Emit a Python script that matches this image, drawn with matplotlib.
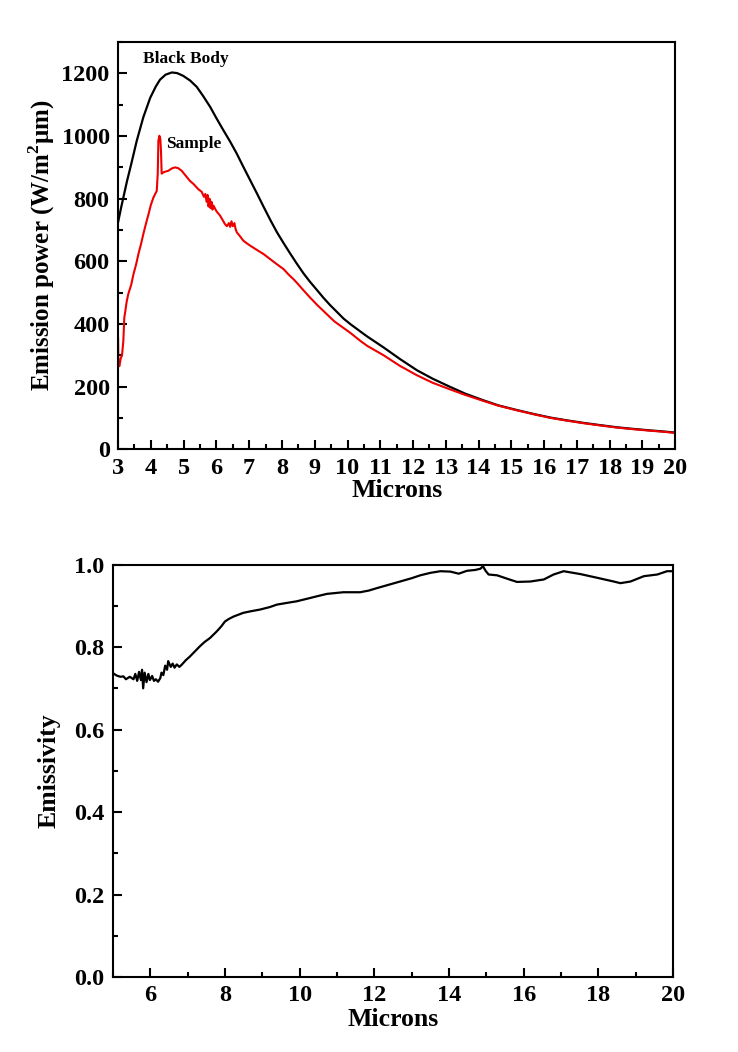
import matplotlib
matplotlib.use('Agg')
import matplotlib.pyplot as plt
from matplotlib.ticker import MultipleLocator

plt.rcParams['font.family'] = 'Liberation Serif'
plt.rcParams['font.weight'] = 'bold'
plt.rcParams['mathtext.fontset'] = 'custom'
plt.rcParams['mathtext.rm'] = 'Liberation Serif:bold'
plt.rcParams['mathtext.bf'] = 'Liberation Serif:bold'

# Black body curve
bb_x = [3.0, 3.1, 3.27, 3.4, 3.57, 3.77, 3.98, 4.15, 4.28, 4.45, 4.64, 4.8, 4.99,
        5.2, 5.4, 5.6, 5.81, 6.0, 6.21, 6.42, 6.62, 6.82, 7.03, 7.24, 7.44, 7.64,
        7.84, 8.05, 8.25, 8.45, 8.66, 8.86, 9.07, 9.27, 9.47, 9.68, 9.88, 10.08,
        10.39, 10.6, 11.1, 11.6, 12.12, 12.6, 13.13, 13.6, 14.15, 14.6, 15.17,
        15.7, 16.19, 16.7, 17.2, 17.7, 18.22, 18.7, 19.24, 19.6, 20.0]
bb_y = [725, 775, 855, 910, 985, 1060, 1122, 1158, 1180, 1196, 1203, 1201, 1192,
        1177, 1157, 1127, 1093, 1057, 1019, 982, 944, 902, 859, 816, 774, 733,
        694, 658, 625, 593, 561, 534, 508, 483, 460, 438, 417, 400,
        376, 360, 325, 288, 252, 225, 199, 177, 156, 140, 125,
        112, 101, 92, 84, 77, 70, 65, 60, 57, 53]

# Sample curve
sm_x = [3.00, 3.01, 3.04, 3.08, 3.12, 3.16, 3.19, 3.22, 3.26, 3.31, 3.40, 3.47,
        3.55, 3.62, 3.70, 3.77, 3.85, 3.93, 4.00, 4.08, 4.18, 4.21, 4.23, 4.26,
        4.29, 4.31, 4.33, 4.40, 4.53, 4.65, 4.74, 4.84, 4.94, 5.05, 5.19, 5.30,
        5.45, 5.55, 5.62, 5.66, 5.70, 5.73, 5.76, 5.79, 5.82, 5.85, 5.88, 5.91,
        6.00, 6.11, 6.20, 6.26, 6.32, 6.38, 6.42, 6.46, 6.50, 6.55, 6.58, 6.62,
        6.72, 6.82, 6.92, 7.03, 7.24, 7.44, 7.64, 7.84, 8.05, 8.20, 8.35, 8.45,
        8.66, 8.86, 9.07, 9.37, 9.60, 9.88, 10.08, 10.39, 10.6, 11.1, 11.6,
        12.12, 12.6, 13.13, 13.6, 14.15, 14.6, 15.17, 15.7, 16.19, 16.7, 17.2,
        17.7, 18.22, 18.7, 19.24, 19.6, 20.0]
sm_y = [355, 270, 265, 290, 300, 345, 420, 440, 470, 495, 525, 559,
        590, 623, 655, 687, 720, 751, 780, 804, 825, 880, 985, 1001,
        990, 950, 880, 885, 889, 897, 900, 897, 889, 875, 857, 847,
        830, 822, 806, 815, 790, 812, 775, 800, 770, 790, 765, 778,
        760, 746, 730, 719, 712, 722, 710, 728, 712, 722, 705, 693,
        680, 666, 658, 650, 636, 623, 607, 591, 575, 558, 543, 532,
        507, 484, 461, 431, 408, 387, 372, 346, 330, 300, 266,
        236, 212, 191, 173, 154, 139, 124, 111, 100, 91, 83,
        76, 69, 64, 59, 56, 52]

# Emissivity
em_x = [5.0, 5.1, 5.2, 5.28, 5.35, 5.45, 5.55, 5.6, 5.65, 5.7, 5.75, 5.78, 5.81,
        5.85, 5.9, 5.95, 5.99, 6.05, 6.1, 6.15, 6.21, 6.27, 6.3, 6.35, 6.4, 6.45,
        6.48, 6.55, 6.6, 6.65, 6.71, 6.78, 6.84, 6.95, 7.06, 7.2, 7.33, 7.45, 7.6,
        7.78, 7.9, 8.0, 8.1, 8.23, 8.49, 8.7, 8.94, 9.2, 9.39, 9.65, 9.92, 10.28,
        10.5, 10.73, 11.17, 11.62, 11.85, 12.07, 12.38, 12.69, 13.0, 13.23, 13.5,
        13.77, 14.04, 14.26, 14.48, 14.7, 14.84, 14.91, 14.98, 15.06, 15.29, 15.55,
        15.82, 16.18, 16.54, 16.8, 17.07, 17.52, 17.97, 18.41, 18.59, 18.86, 19.22,
        19.58, 19.84, 20.0]
em_y = [0.737, 0.731, 0.728, 0.729, 0.722, 0.728, 0.722, 0.735, 0.718, 0.740,
        0.720, 0.745, 0.700, 0.738, 0.715, 0.735, 0.720, 0.730, 0.718, 0.722,
        0.716, 0.725, 0.738, 0.732, 0.755, 0.745, 0.766, 0.752, 0.760, 0.750,
        0.758, 0.752, 0.757, 0.768, 0.777, 0.790, 0.802, 0.812, 0.822, 0.838,
        0.850, 0.862, 0.868, 0.874, 0.883, 0.887, 0.891, 0.897, 0.903, 0.907,
        0.911, 0.919, 0.924, 0.929, 0.933, 0.933, 0.937, 0.943, 0.951, 0.959,
        0.967, 0.974, 0.980, 0.984, 0.983, 0.978, 0.985, 0.987, 0.990, 0.996,
        0.985, 0.976, 0.974, 0.966, 0.958, 0.959, 0.964, 0.976, 0.984, 0.977,
        0.968, 0.959, 0.955, 0.959, 0.972, 0.976, 0.984, 0.984]


def style_axes(ax):
    for sp in ax.spines.values():
        sp.set_linewidth(1.5)
    ax.tick_params(which='both', direction='in', top=False, right=False, width=1.5)
    ax.tick_params(which='major', length=6.5, labelsize=17.5, pad=6)
    ax.tick_params(which='minor', length=3.5)


fig = plt.figure(figsize=(7.38, 10.52), dpi=100)

# top panel
ax1 = fig.add_axes([0.160, 0.573, 0.755, 0.387])
ax1.plot(bb_x, bb_y, color='black', lw=1.6)
ax1.plot(sm_x, sm_y, color='#ee0000', lw=1.5)
ax1.set_xlim(3, 20)
ax1.set_ylim(0, 1300)
ax1.xaxis.set_major_locator(MultipleLocator(1))
ax1.xaxis.set_minor_locator(MultipleLocator(0.5))
ax1.yaxis.set_major_locator(MultipleLocator(200))
ax1.yaxis.set_minor_locator(MultipleLocator(100))
style_axes(ax1)
ax1.set_xlabel('Microns', fontsize=18.5, fontweight='bold', labelpad=0)
ax1.set_ylabel('Emission power (W/m$^\\mathbf{2}$μm)', fontsize=18,
               fontweight='bold', labelpad=3)
ax1.text(3.75, 1245, 'Black Body', fontsize=12.5, fontweight='bold', va='center')
ax1.text(4.45, 975, 'Sample', fontsize=12.5, fontweight='bold', va='center')

# bottom panel
ax2 = fig.add_axes([0.153, 0.0713, 0.759, 0.392])
ax2.plot(em_x, em_y, color='black', lw=1.6)
ax2.set_xlim(5, 20)
ax2.set_ylim(0, 1.0)
ax2.xaxis.set_major_locator(MultipleLocator(2))
ax2.xaxis.set_minor_locator(MultipleLocator(1))
ax2.yaxis.set_major_locator(MultipleLocator(0.2))
ax2.yaxis.set_minor_locator(MultipleLocator(0.1))
style_axes(ax2)
ax2.set_xlabel('Microns', fontsize=18.5, fontweight='bold', labelpad=1)
ax2.set_ylabel('Emissivity', fontsize=18.5, fontweight='bold', labelpad=10)

fig.savefig('out.png', dpi=100)
